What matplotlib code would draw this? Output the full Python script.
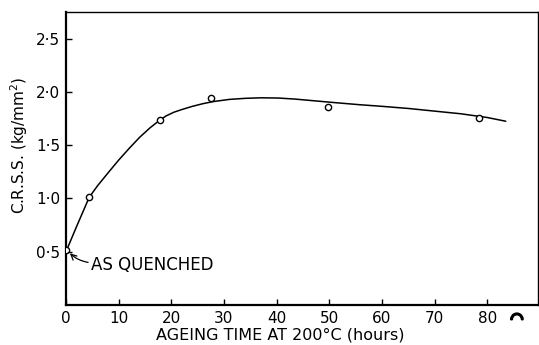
import matplotlib
matplotlib.use("Agg")
import matplotlib.pyplot as plt
import matplotlib.patheffects as pe

# Measured points
time_pts = [0, 4.4, 17.8, 27.6, 49.7, 78.4]
crss_pts = [0.52, 1.01, 1.74, 1.945, 1.86, 1.76]

# Hand-drawn smooth curve
curve_x = [0, 2, 4.4, 6, 8.4, 10, 12, 14, 16, 17.8, 19, 20.5, 22, 24, 26, 28,
           31, 34, 37, 40.3, 43.5, 46.9, 51, 55.8, 60, 65, 70, 75, 80, 83.5]
curve_y = [0.50, 0.735, 1.01, 1.12, 1.265, 1.36, 1.47, 1.575, 1.665, 1.735, 1.775, 1.81, 1.835,
           1.865, 1.89, 1.91, 1.93, 1.94, 1.945, 1.943, 1.933, 1.918, 1.90, 1.88, 1.865, 1.845,
           1.82, 1.795, 1.76, 1.725]

xticks = [0, 10, 20, 30, 40, 50, 60, 70, 80]
xticklabels = ["0", "10", "20", "30", "40", "50", "60", "70", "80"]
yticks = [0.5, 1.0, 1.5, 2.0, 2.5]
yticklabels = ["0·5", "1·0", "1·5", "2·0", "2·5"]

plt.rcParams['font.family'] = ['DejaVu Sans']
fig = plt.figure(figsize=(5.39, 3.45), dpi=100)
ax = fig.add_axes([0.1224, 0.116, 0.8756, 0.849])

ax.plot(curve_x, curve_y, color='black', lw=1.1, solid_capstyle='round', solid_joinstyle='round')
ax.plot(time_pts, crss_pts, 'o', mfc='white', mec='black', ms=4.5, mew=1.0, zorder=3)

ax.set_xlim(0, 89.6)
ax.set_ylim(0, 2.75)
ax.set_xticks(xticks)
ax.set_xticklabels(xticklabels, fontsize=11)
ax.set_yticks(yticks)
ax.set_yticklabels(yticklabels, fontsize=11)
ax.tick_params(direction='in', length=4, width=1, pad=4)

for s in ['left', 'bottom']:
    ax.spines[s].set_linewidth(1.6)
for s in ['top', 'right']:
    ax.spines[s].set_linewidth(1.0)

ax.set_xlabel("AGEING TIME AT 200°C (hours)", fontsize=11.5)
ax.xaxis.set_label_coords(0.455, -0.077)
ax.set_ylabel("C.R.S.S. (kg/mm$^2$)", fontsize=11)
ax.yaxis.set_label_coords(-0.077, 0.546)

ax.text(4.7, 0.375, "AS QUENCHED", fontsize=12, va='center', ha='left')
ax.annotate("", xy=(0.75, 0.485), xytext=(4.2, 0.40),
            arrowprops=dict(arrowstyle='->', color='black', lw=0.9,
                            connectionstyle='arc3,rad=-0.15', shrinkA=0, shrinkB=0))

ax.text(85.6, -0.13, "◠", fontsize=11, ha='center', va='center', clip_on=False,
        path_effects=[pe.withStroke(linewidth=1.6, foreground='black')])

fig.savefig("out.png", dpi=100)
